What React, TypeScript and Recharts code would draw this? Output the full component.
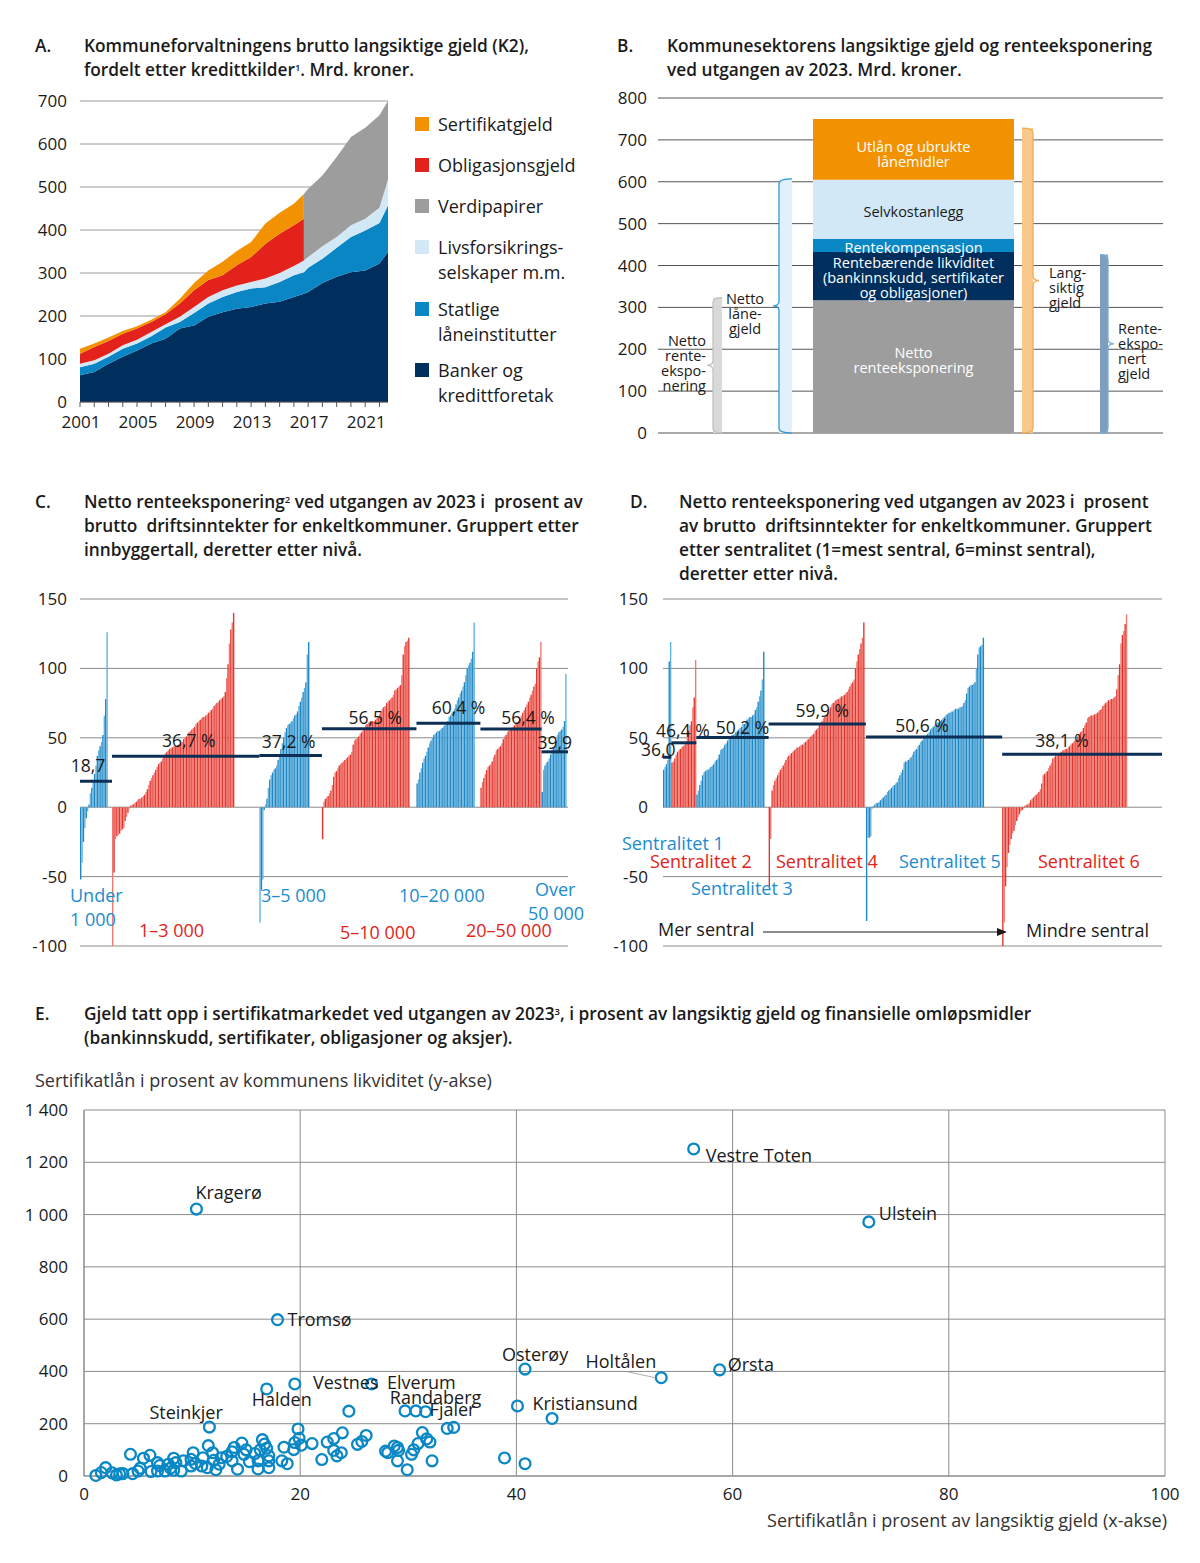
import React from 'react';
import {
  AreaChart, Area, BarChart, Bar, ScatterChart, Scatter, XAxis, YAxis,
  CartesianGrid, Cell, ReferenceLine,
} from 'recharts';

const FONT = '"Open Sans", "Noto Sans", "DejaVu Sans", sans-serif';
const TXT = '#1a1a1a';
const BLUE_T = '#1b8ccf';
const RED_T = '#e2231a';
const gap = (n: number) => Array(n).fill(null);

// ---------------- Panel A data ----------------
const aYears = [2001, 2002, 2003, 2004, 2005, 2006, 2007, 2008, 2009, 2010, 2011, 2012, 2013, 2014, 2015, 2016, 2016.7, 2016.7, 2017, 2018, 2019, 2020, 2021, 2022, 2022.6];
const aBanker = [62, 70, 89, 105, 120, 136, 147, 171, 178, 198, 209, 217, 221, 229, 233, 244, 252, 252, 256, 277, 291, 302, 306, 322, 349];
const aStatlige = [19, 19, 16, 19, 16, 17, 26, 15, 29, 31, 35, 39, 43, 38, 46, 51, 50, 50, 56, 56, 68, 82, 93, 94, 108];
const aLivs = [8, 8, 7, 8, 9, 10, 8, 12, 14, 15, 16, 15, 15, 20, 21, 21, 27, 27, 25, 29, 25, 27, 27, 36, 60];
const aVerdi = [0, 0, 0, 0, 0, 0, 0, 0, 0, 0, 0, 0, 0, 0, 0, 0, 0, 155, 159, 165, 186, 205, 212, 215, 183];
const aOblig = [23, 31, 30, 27, 26, 23, 23, 31, 39, 40, 35, 47, 58, 81, 91, 95, 97, 0, 0, 0, 0, 0, 0, 0, 0];
const aSert = [12, 8, 8, 6, 5, 5, 5, 11, 17, 22, 31, 33, 35, 47, 49, 50, 58, 0, 0, 0, 0, 0, 0, 0, 0];
const aTickYears = [2001, 2002, 2003, 2004, 2005, 2006, 2007, 2008, 2009, 2010, 2011, 2012, 2013, 2014, 2015, 2016, 2017, 2018, 2019, 2020, 2021, 2022];
const aLabelYears = [2001, 2005, 2009, 2013, 2017, 2021];
const aLegend = [
  { key: 'sert', lines: ['Sertifikatgjeld'], color: '#f39200' },
  { key: 'oblig', lines: ['Obligasjonsgjeld'], color: '#e3231b' },
  { key: 'verdi', lines: ['Verdipapirer'], color: '#9d9d9d' },
  { key: 'livs', lines: ['Livsforsikrings-', 'selskaper m.m.'], color: '#d2e8f7' },
  { key: 'statlige', lines: ['Statlige', 'låneinstitutter'], color: '#0a86c4' },
  { key: 'banker', lines: ['Banker og', 'kredittforetak'], color: '#002f5e' },
];

// ---------------- Panel B data ----------------
const bCategory = '2023';
const bNettoRente = 323;
const bNettoLane = 607;
const bLangsiktig = 728;
const bRenteeksp = 426;
const bStackKeys = ['s0', 's1', 's2', 's3', 's4'];
const bStackValues = [317, 115, 31, 142, 145];
const bStackLabels = [
  ['Netto', 'renteeksponering'],
  ['Rentebærende likviditet', '(bankinnskudd, sertifikater', 'og obligasjoner)'],
  ['Rentekompensasjon'],
  ['Selvkostanlegg'],
  ['Utlån og ubrukte', 'lånemidler'],
];

// ---------------- Panel C data ----------------
const cUnder1000 = [-52, -40, -25, -15, -8, -3, 2, 10, 14, 18, 24, 30, 37, 41, 44, 47, 52, 66, 78, 126, ...gap(3)];
const c1to3 = [-100, -47, -23, -21, -20, -19, -17, -16, -15, -10,
  -7, -4, -1, 1, 2, 2, 3, 4, 5, 6,
  6, 7, 8, 9, 11, 13, 16, 19, 21, 23,
  25, 27, 29, 31, 32, 33, 35, 37, 39, 40,
  41, 42, 43, 43, 44, 44, 44, 45, 45, 46,
  47, 49, 50, 51, 53, 54, 55, 56, 57, 58,
  60, 61, 62, 63, 64, 65, 65, 66, 67, 68,
  69, 70, 71, 73, 74, 75, 76, 77, 78, 79,
  80, 83, 93, 103, 118, 128, 133, 140, ...gap(18)];
const c3to5 = [-83, -60, -52, -2, 2, 6, 14, 20, 23, 25, 27, 28, 30, 34, 37, 42, 46, 50, 54, 57,
  59, 60, 61, 62, 64, 66, 67, 69, 73, 76, 79, 83, 86, 90, 110, 119, ...gap(9)];
const c5to10 = [-23, 4, 6, 7, 8, 10, 12, 16, 22, 25, 26, 28, 30, 31, 32, 33, 34, 35, 36, 37,
  38, 40, 45, 48, 49, 50, 51, 53, 54, 55, 57, 59, 60, 61, 61, 62, 62, 62, 63, 64,
  65, 67, 69, 71, 72, 73, 75, 76, 77, 78, 79, 81, 84, 85, 86, 87, 88, 95, 110, 116,
  119, 120, 122, ...gap(5)];
const c10to20 = [17, 20, 25, 28, 32, 35, 37, 40, 43, 46, 48, 50, 52, 53, 54, 55, 55, 56, 57, 58,
  59, 60, 62, 65, 66, 68, 69, 71, 74, 77, 79, 82, 84, 87, 90, 95, 100, 102, 104, 107,
  112, 133, ...gap(4)];
const c20to50 = [14, 18, 21, 24, 27, 29, 30, 31, 33, 36, 38, 41, 42, 43, 44, 46, 49, 51, 52, 54,
  55, 56, 57, 58, 59, 60, 61, 62, 64, 66, 68, 70, 72, 74, 76, 79, 81, 84, 87, 89,
  100, 105, 108, 119];
const cOver50 = [11, 27, 30, 32, 33, 35, 38, 41, 43, 44, 48, 52, 54, 55, 56, 58, 62, 96, ...gap(1)];
const cAverages = [18.7, 36.7, 37.2, 56.5, 60.4, 56.4, 39.9];
const cPercentSign = [false, true, true, true, true, true, false];
const cGroupColor = ['blue', 'red', 'blue', 'red', 'blue', 'red', 'blue'];

// ---------------- Panel D data ----------------
const dS1 = [27, 29, 31, 34, 105, 119];
const dS2 = [32, 33, 35, 38, 40, 41, 42, 43, 44, 45, 47, 50, 55, 59, 62, 72, 79, 106];
const dS3 = [9, 12, 16, 19, 23, 25, 26, 27, 27, 28, 29, 30, 31, 33, 34, 35, 38, 41, 42, 43,
  45, 46, 48, 49, 51, 52, 52, 53, 54, 55, 56, 57, 58, 60, 60, 61, 63, 64, 65, 65,
  66, 67, 70, 72, 76, 80, 84, 92, 112, ...gap(3)];
const dS4 = [-57, -23, 12, 16, 19, 21, 23, 25, 27, 28, 30, 32, 34, 36, 37, 38, 39, 40, 41, 42,
  43, 43, 44, 45, 45, 46, 47, 48, 49, 50, 51, 52, 53, 55, 56, 57, 59, 60, 62, 64,
  65, 66, 68, 69, 72, 74, 75, 76, 77, 78, 78, 79, 80, 80, 81, 82, 83, 85, 87, 89,
  90, 92, 100, 105, 110, 114, 118, 122, 133, ...gap(1)];
const dS5 = [-82, -22, -22, -21, -1, 1, 2, 3, 3, 4, 5, 6, 7, 8, 9, 11, 12, 13, 14, 15,
  16, 17, 18, 21, 23, 25, 27, 32, 33, 33, 34, 35, 36, 38, 40, 41, 42, 44, 45, 47,
  48, 50, 51, 52, 53, 54, 56, 57, 58, 59, 60, 61, 61, 62, 63, 64, 65, 66, 67, 68,
  68, 69, 69, 70, 71, 71, 71, 72, 72, 73, 75, 77, 82, 86, 87, 88, 88, 89, 90, 100,
  110, 115, 116, 117, 122, ...gap(13)];
const dS6 = [-100, -83, -57, -43, -33, -27, -23, -19, -17, -13, -10, -7, -5, -3, -2, -1, 1, 2, 2, 3,
  5, 6, 7, 8, 9, 10, 11, 13, 17, 23, 24, 25, 26, 28, 30, 32, 35, 36, 37, 38,
  39, 39, 40, 41, 41, 42, 42, 43, 44, 45, 46, 47, 48, 49, 51, 53, 54, 55, 57, 59,
  61, 64, 65, 66, 66, 66, 67, 67, 68, 69, 70, 71, 73, 74, 75, 76, 77, 77, 78, 78,
  79, 80, 85, 95, 103, 118, 124, 127, 132, 139, ...gap(25)];
const dAverages = [36.0, 46.4, 50.2, 59.9, 50.6, 38.1];
const dPercentSign = [false, true, true, true, true, true];
const dGroupColor = ['blue', 'red', 'blue', 'red', 'blue', 'red'];

// ---------------- Panel E data ----------------
const eNames = ['Vestre Toten', 'Ulstein', 'Kragerø', 'Tromsø', 'Osterøy', 'Ørsta', 'Holtålen', 'Vestnes', 'Elverum', 'Randaberg', 'Fjaler', 'Halden', 'Kristiansund', 'Steinkjer'];
const eNamedX = [56.4, 72.6, 10.4, 17.9, 40.8, 58.8, 53.4, 26.6, 29.7, 30.7, 31.6, 16.9, 40.1, 11.6];
const eNamedY = [1251, 972, 1021, 598, 409, 406, 376, 352, 249, 249, 246, 333, 268, 187];
const eOtherPoints = [
  [19.5, 352], [24.5, 248], [43.3, 220], [33.6, 182], [34.2, 186], [19.8, 180], [31.3, 166], [23.9, 165],
  [26.1, 155], [23.1, 143], [31.7, 142], [16.5, 139], [19.9, 144], [14.6, 126], [30.9, 124], [21.1, 124],
  [19.5, 128], [25.3, 121], [25.7, 132], [11.5, 116], [16.7, 122], [16.9, 106], [28.7, 115], [29.0, 109],
  [29.1, 98], [13.9, 109], [13.7, 93], [19.4, 101], [20.1, 118], [23.1, 98], [23.8, 89], [23.4, 77],
  [28.1, 89], [30.3, 83], [10.1, 89], [6.1, 79], [4.3, 83], [5.5, 68], [11.9, 89], [14.8, 83],
  [15.8, 86], [17.1, 77], [32.2, 58], [22.0, 63], [29.0, 58], [29.9, 24], [38.9, 69], [40.8, 47],
  [18.3, 58], [18.8, 47], [17.1, 58], [17.1, 32], [16.1, 58], [16.1, 27], [14.2, 26], [13.7, 58],
  [12.7, 70], [12.0, 60], [12.2, 24], [11.4, 32], [10.9, 38], [9.9, 38], [9.9, 64], [9.2, 58],
  [9.0, 19], [8.3, 68], [8.5, 51], [8.3, 22], [7.8, 45], [7.5, 19], [6.8, 51], [6.8, 19],
  [6.2, 17], [5.0, 19], [4.5, 9], [3.6, 9], [3.0, 4], [2.0, 32], [1.6, 13], [1.1, 2],
  [2.6, 12], [3.3, 8], [5.2, 30], [7.0, 40], [8.0, 30], [10.3, 48], [11.0, 70], [12.5, 45],
  [13.2, 75], [15.0, 100], [15.3, 55], [16.3, 100], [18.5, 110], [22.5, 130], [27.9, 95], [30.5, 100], [32.0, 130],
];
const eXTicks = [0, 20, 40, 60, 80, 100];
const eYTicks = [0, 200, 400, 600, 800, 1000, 1200, 1400];

// ---------------- styles (not data) ----------------
const SHADES: Record<string, string[]> = { blue: ['#1f87c4', '#62b1de'], red: ['#e5342c', '#f07a72'] };
const cLabelOffset = [[-8, -15], [3, -15], [-2, -14], [6, -11], [10, -15], [17, -11], [0, -9]];
const dLabelOffset = [[-9, -7], [-1, -12], [10, -10], [5, -13], [-12, -11], [-20, -13]];
const eLabelStyle: Record<string, { dx: number; dy: number; anchor: string; leader?: boolean }> = {
  'Kragerø': { dx: -1, dy: -16, anchor: 'start' },
  'Vestre Toten': { dx: 12, dy: 7, anchor: 'start' },
  'Ulstein': { dx: 10, dy: -8, anchor: 'start' },
  'Tromsø': { dx: 10, dy: 0, anchor: 'start' },
  'Osterøy': { dx: 10, dy: -14, anchor: 'middle' },
  'Holtålen': { dx: -5, dy: -16, anchor: 'end', leader: true },
  'Ørsta': { dx: 8, dy: -5, anchor: 'start' },
  'Vestnes': { dx: 7, dy: -1, anchor: 'end' },
  'Elverum': { dx: -18, dy: -28, anchor: 'start' },
  'Randaberg': { dx: -26, dy: -13, anchor: 'start' },
  'Fjaler': { dx: 4, dy: -2, anchor: 'start' },
  'Halden': { dx: -15, dy: 11, anchor: 'start' },
  'Kristiansund': { dx: 15, dy: -2, anchor: 'start' },
  'Steinkjer': { dx: -60, dy: -14, anchor: 'start' },
};

// ---------------- helpers ----------------
function Txt({ x, y, children, size = 18, color = TXT, weight = 400, anchor = 'start', ls = 0 }: any) {
  const tx = anchor === 'middle' ? 'translateX(-50%)' : anchor === 'end' ? 'translateX(-100%)' : undefined;
  const lh = Math.round(size * 1.2);
  return (
    <div style={{ position: 'absolute', left: x, top: y - lh / 2, fontSize: size, lineHeight: `${lh}px`, color, fontWeight: weight, whiteSpace: 'pre', transform: tx, letterSpacing: ls }}>
      {children}
    </div>
  );
}
const TITLE = { size: 17.3, weight: 600, ls: 0 };
const Title = ({ x, y, children }: any) => <Txt x={x} y={y} size={TITLE.size} weight={TITLE.weight} ls={TITLE.ls}>{children}</Txt>;
const Sup = ({ children }: any) => <sup style={{ fontSize: '55%', verticalAlign: 'top', position: 'relative', top: -2 }}>{children}</sup>;

function buildRows(groups: (number | null)[][]) {
  const rows: any[] = [];
  const ranges: number[][] = [];
  groups.forEach((vals, gi) => {
    const s = rows.length;
    vals.forEach((v) => rows.push({ i: rows.length, v, g: gi }));
    ranges.push([s, rows.length - 1]);
  });
  return { rows, ranges };
}
const fmtAvg = (v: number, pct: boolean) => v.toFixed(1).replace('.', ',') + (pct ? ' %' : '');

// ---------------- Panel A ----------------
const aRows = aYears.map((year, k) => ({
  year, banker: aBanker[k], statlige: aStatlige[k], livs: aLivs[k], verdi: aVerdi[k], oblig: aOblig[k], sert: aSert[k],
}));
const ATick = (props: any) => {
  const { x, y, payload } = props;
  if (!aLabelYears.includes(payload.value)) return <g />;
  return <text x={x + 1} y={y} dy="0.71em" textAnchor="middle" fontSize={17} fill={TXT}>{payload.value}</text>;
};
function PanelA() {
  return (
    <AreaChart width={400} height={350} data={aRows} margin={{ top: 11, right: 12, bottom: 8, left: 0 }}>
      <CartesianGrid vertical={false} stroke="#9a9a9a" />
      <XAxis dataKey="year" type="number" domain={[2001, 2022.6]} ticks={aTickYears} interval={0} height={30}
        tick={<ATick />} tickSize={5} tickMargin={9} stroke="#555" axisLine={{ stroke: '#555' }} tickLine={{ stroke: '#555' }} />
      <YAxis domain={[0, 700]} ticks={[0, 100, 200, 300, 400, 500, 600, 700]} interval={0} width={80}
        axisLine={false} tickLine={false} tickSize={0} tickMargin={13} tick={{ fontSize: 17, fill: TXT }} />
      <Area type="linear" dataKey="banker" stackId="a" stroke="none" fill="#002f5e" fillOpacity={1} isAnimationActive={false} />
      <Area type="linear" dataKey="statlige" stackId="a" stroke="none" fill="#0a86c4" fillOpacity={1} isAnimationActive={false} />
      <Area type="linear" dataKey="livs" stackId="a" stroke="none" fill="#d2e8f7" fillOpacity={1} isAnimationActive={false} />
      <Area type="linear" dataKey="verdi" stackId="a" stroke="none" fill="#9d9d9d" fillOpacity={1} isAnimationActive={false} />
      <Area type="linear" dataKey="oblig" stackId="a" stroke="none" fill="#e3231b" fillOpacity={1} isAnimationActive={false} />
      <Area type="linear" dataKey="sert" stackId="a" stroke="none" fill="#f39200" fillOpacity={1} isAnimationActive={false} />
    </AreaChart>
  );
}
function LegendA() {
  const ys = [124, 165, 206, 247, 309, 370];
  return (
    <>
      {aLegend.map((it, k) => (
        <React.Fragment key={it.key}>
          <div style={{ position: 'absolute', left: 415, top: ys[k] - 7, width: 14, height: 14, background: it.color }} />
          {it.lines.map((l, j) => <Txt key={j} x={438} y={ys[k] + j * 24.5} size={18}>{l}</Txt>)}
        </React.Fragment>
      ))}
    </>
  );
}

// ---------------- Panel B ----------------
const bRow: any = { name: bCategory, nettoRente: bNettoRente, nettoLane: bNettoLane, langsiktig: bLangsiktig, renteeksp: bRenteeksp };
bStackKeys.forEach((k, i) => { bRow[k] = bStackValues[i]; });
const bThin: Record<string, any> = {
  nettoRente: { side: 'left', stroke: '#c2c2c2', anchor: 'end', tx: -7, dy: -2, lines: ['Netto', 'rente-', 'ekspo-', 'nering'] },
  nettoLane: { side: 'left', stroke: '#2e9bd6', anchor: 'middle', tx: -34, dy: 8, lines: ['Netto', 'låne-', 'gjeld'] },
  langsiktig: { side: 'right', stroke: '#f4aa55', anchor: 'start', tx: 16, dy: 7, lines: ['Lang-', 'siktig', 'gjeld'] },
  renteeksp: { side: 'right', stroke: '#72aee0', anchor: 'start', tx: 10, dy: 8, lines: ['Rente-', 'ekspo-', 'nert', 'gjeld'] },
};
const bSegStyle = [
  { fill: '#9d9d9d', color: '#fff', dy: -6 },
  { fill: '#002f5e', color: '#fff', dy: 2 },
  { fill: '#0a87c5', color: '#fff', dy: 2 },
  { fill: '#d3e8f7', color: TXT, dy: 3 },
  { fill: '#f39200', color: '#fff', dy: 5 },
];
function Bracket(props: any) {
  const { x, y, width: w, height: h, fill, cfg } = props;
  if (!h || h <= 0) return <g />;
  const m = y + h / 2;
  const r = 5, t = 6;
  const left = cfg.side === 'left';
  const ex = left ? x : x + w;
  const ox = left ? x + w : x;
  const s = left ? -1 : 1;
  const d = `M${ox},${y} Q${ex},${y} ${ex},${y + r} L${ex},${m - r} Q${ex},${m} ${ex + s * t},${m} Q${ex},${m} ${ex},${m + r} L${ex},${y + h - r} Q${ex},${y + h} ${ox},${y + h}`;
  const lh = 15;
  const tx = left ? x + cfg.tx : x + w + cfg.tx;
  const y0 = m + cfg.dy - ((cfg.lines.length - 1) * lh) / 2 + 5;
  return (
    <g>
      <rect x={x} y={y} width={w} height={h} fill={fill} />
      <path d={d} fill="none" stroke={cfg.stroke} strokeWidth={1.3} />
      <text textAnchor={cfg.anchor} fontSize={14.5} fill={TXT}>
        {cfg.lines.map((l: string, i: number) => <tspan key={i} x={tx} y={y0 + i * lh}>{l}</tspan>)}
      </text>
    </g>
  );
}
function SegLabel(props: any) {
  const vb = props.viewBox && props.viewBox.width != null ? props.viewBox : props;
  const { x, y, width, height } = vb;
  const lines: string[] = props.lines;
  const lh = 15;
  const cx = x + width / 2;
  const y0 = y + height / 2 + props.dy - ((lines.length - 1) * lh) / 2 + 5;
  return (
    <text textAnchor="middle" fontSize={14.5} fill={props.color}>
      {lines.map((l, i) => <tspan key={i} x={cx} y={y0 + i * lh}>{l}</tspan>)}
    </text>
  );
}
function PanelB() {
  return (
    <BarChart width={620} height={370} data={[bRow]} margin={{ top: 18, right: 17, bottom: 17, left: 0 }} barGap={0} barCategoryGap={0}>
      <CartesianGrid vertical={false} stroke="#555" />
      <XAxis dataKey="name" hide />
      <YAxis domain={[0, 800]} ticks={[0, 100, 200, 300, 400, 500, 600, 700, 800]} interval={0} width={98}
        axisLine={false} tickLine={false} tickSize={0} tickMargin={11} tick={{ fontSize: 17, fill: TXT }} />
      <Bar dataKey="nettoRente" stackId="k1" barSize={9} fill="#d9d9d9" isAnimationActive={false} shape={(p: any) => <Bracket {...p} cfg={bThin.nettoRente} />} />
      <Bar dataKey="spacer1" stackId="k2" barSize={57} isAnimationActive={false} />
      <Bar dataKey="nettoLane" stackId="k3" barSize={13} fill="#e2f0fb" isAnimationActive={false} shape={(p: any) => <Bracket {...p} cfg={bThin.nettoLane} />} />
      <Bar dataKey="spacer2" stackId="k4" barSize={21} isAnimationActive={false} />
      {bStackKeys.map((k, i) => (
        <Bar key={k} dataKey={k} stackId="k5" barSize={201} fill={bSegStyle[i].fill} isAnimationActive={false}
          label={(p: any) => <SegLabel {...p} lines={bStackLabels[i]} color={bSegStyle[i].color} dy={bSegStyle[i].dy} />} />
      ))}
      <Bar dataKey="spacer3" stackId="k6" barSize={8} isAnimationActive={false} />
      <Bar dataKey="langsiktig" stackId="k7" barSize={11} fill="#f9c98b" isAnimationActive={false} shape={(p: any) => <Bracket {...p} cfg={bThin.langsiktig} />} />
      <Bar dataKey="spacer4" stackId="k8" barSize={67} isAnimationActive={false} />
      <Bar dataKey="renteeksp" stackId="k9" barSize={8} fill="#7f9ebe" isAnimationActive={false} shape={(p: any) => <Bracket {...p} cfg={bThin.renteeksp} />} />
    </BarChart>
  );
}

// ---------------- Panels C & D ----------------
const cData = buildRows([cUnder1000, c1to3, c3to5, c5to10, c10to20, c20to50, cOver50]);
const dData = buildRows([dS1, dS2, dS3, dS4, dS5, dS6]);

function SortedBars({ data, averages, pct, colors, offsets, width, height, yWidth, marginRight, tickMargin }: any) {
  const plotW = width - yWidth - marginRight;
  const band = plotW / data.rows.length;
  return (
    <BarChart width={width} height={height} data={data.rows} margin={{ top: 14, right: marginRight, bottom: 14, left: 0 }} barGap={0} barCategoryGap={0}>
      <CartesianGrid vertical={false} stroke="#8a8a8a" />
      <XAxis dataKey="i" hide />
      <YAxis domain={[-100, 150]} ticks={[-100, -50, 0, 50, 100, 150]} interval={0} width={yWidth} allowDataOverflow
        axisLine={false} tickLine={false} tickSize={0} tickMargin={tickMargin} tick={{ fontSize: 17, fill: TXT }} />
      <Bar dataKey="v" barSize={band - 0.01} isAnimationActive={false}>
        {data.rows.map((r: any, k: number) => <Cell key={k} fill={SHADES[colors[r.g]][k % 2]} />)}
      </Bar>
      {data.ranges.map((rg: number[], gi: number) => (
        <ReferenceLine key={gi} segment={[{ x: rg[0], y: averages[gi] }, { x: rg[1], y: averages[gi] }]}
          stroke="#0d2f56" strokeWidth={3} ifOverflow="visible"
          shape={(p: any) => <line x1={p.x1 - band / 2} x2={p.x2 + band / 2} y1={p.y1} y2={p.y2} stroke="#0d2f56" strokeWidth={3} />}
          label={(p: any) => {
            const vb = p.viewBox || {};
            return (
              <text x={vb.x + vb.width / 2 + offsets[gi][0]} y={vb.y + offsets[gi][1] + 6} textAnchor="middle" fontSize={17.5} fill={TXT}>
                {fmtAvg(averages[gi], pct[gi])}
              </text>
            );
          }} />
      ))}
    </BarChart>
  );
}

// ---------------- Panel E ----------------
const eRows = [
  ...eOtherPoints.map(([x, y]) => ({ x, y, name: null as string | null })),
  ...eNames.map((name, k) => ({ x: eNamedX[k], y: eNamedY[k], name })),
];
const fmtThousands = (v: number) => (v >= 1000 ? `${Math.floor(v / 1000)} ${String(v % 1000).padStart(3, '0')}` : String(v));
function EDot(props: any) {
  const { cx, cy, payload } = props;
  const st = payload && payload.name ? eLabelStyle[payload.name] : null;
  return (
    <g>
      <circle cx={cx} cy={cy} r={5.4} fill="none" stroke="#0a87c5" strokeWidth={2.3} />
      {st && st.leader && <line x1={cx - 34} y1={cy - 6} x2={cx - 6} y2={cy} stroke="#999" strokeWidth={0.8} />}
      {st && (
        <text x={cx + st.dx} y={cy + st.dy + 6} textAnchor={st.anchor} fontSize={18} fill={TXT}>{payload.name}</text>
      )}
    </g>
  );
}
function PanelE() {
  return (
    <ScatterChart width={1200} height={420} margin={{ top: 15, right: 35, bottom: 9, left: 0 }}>
      <CartesianGrid stroke="#8c8c8c" />
      <XAxis type="number" dataKey="x" domain={[0, 100]} ticks={eXTicks} interval={0} height={30}
        axisLine={{ stroke: '#8c8c8c' }} tickLine={false} tickSize={0} tickMargin={12} tick={{ fontSize: 17, fill: TXT }} />
      <YAxis type="number" dataKey="y" domain={[0, 1400]} ticks={eYTicks} interval={0} width={84} tickFormatter={fmtThousands}
        axisLine={{ stroke: '#8c8c8c' }} tickLine={false} tickSize={0} tickMargin={16} tick={{ fontSize: 17, fill: TXT }} />
      <Scatter data={eRows} isAnimationActive={false} shape={(p: any) => <EDot {...p} />} />
    </ScatterChart>
  );
}

// ---------------- App ----------------
export default function App() {
  return (
    <div style={{ position: 'absolute', left: 0, top: 0, width: 1200, height: 1563, background: '#fff', fontFamily: FONT, color: TXT, overflow: 'hidden' }}>
      {/* Titles */}
      <Title x={35} y={45}>A.</Title>
      <Title x={84} y={45}>Kommuneforvaltningens brutto langsiktige gjeld (K2),</Title>
      <Title x={84} y={69}>fordelt etter kredittkilder<Sup>1</Sup>. Mrd. kroner.</Title>
      <Title x={617} y={45}>B.</Title>
      <Title x={667} y={45}>Kommunesektorens langsiktige gjeld og renteeksponering</Title>
      <Title x={667} y={69}>ved utgangen av 2023. Mrd. kroner.</Title>
      <Title x={35} y={501}>C.</Title>
      <Title x={84} y={501}>Netto renteeksponering<Sup>2</Sup> ved utgangen av 2023 i  prosent av</Title>
      <Title x={84} y={525}>brutto  driftsinntekter for enkeltkommuner. Gruppert etter</Title>
      <Title x={84} y={549}>innbyggertall, deretter etter nivå.</Title>
      <Title x={630} y={501}>D.</Title>
      <Title x={679} y={501}>Netto renteeksponering ved utgangen av 2023 i  prosent</Title>
      <Title x={679} y={525}>av brutto  driftsinntekter for enkeltkommuner. Gruppert</Title>
      <Title x={679} y={549}>etter sentralitet (1=mest sentral, 6=minst sentral),</Title>
      <Title x={679} y={573}>deretter etter nivå.</Title>
      <Title x={35} y={1013}>E.</Title>
      <Title x={84} y={1013}>Gjeld tatt opp i sertifikatmarkedet ved utgangen av 2023<Sup>3</Sup>, i prosent av langsiktig gjeld og finansielle omløpsmidler</Title>
      <Title x={84} y={1037}>(bankinnskudd, sertifikater, obligasjoner og aksjer).</Title>
      <Txt x={35} y={1080} color="#333">Sertifikatlån i prosent av kommunens likviditet (y-akse)</Txt>
      <Txt x={1167} y={1520} anchor="end" color="#333">Sertifikatlån i prosent av langsiktig gjeld (x-akse)</Txt>

      {/* Panel A */}
      <div style={{ position: 'absolute', left: 0, top: 90 }}><PanelA /></div>
      <LegendA />

      {/* Panel B */}
      <div style={{ position: 'absolute', left: 560, top: 80 }}><PanelB /></div>

      {/* Panel C */}
      <div style={{ position: 'absolute', left: 0, top: 585 }}>
        <SortedBars data={cData} averages={cAverages} pct={cPercentSign} colors={cGroupColor} offsets={cLabelOffset}
          width={580} height={375} yWidth={80} marginRight={12} tickMargin={13} />
      </div>
      <Txt x={70} y={895} color={BLUE_T}>Under</Txt>
      <Txt x={70} y={919} color={BLUE_T}>1 000</Txt>
      <Txt x={139} y={930} color={RED_T}>1–3 000</Txt>
      <Txt x={261} y={895} color={BLUE_T}>3–5 000</Txt>
      <Txt x={340} y={932} color={RED_T}>5–10 000</Txt>
      <Txt x={399} y={895} color={BLUE_T}>10–20 000</Txt>
      <Txt x={466} y={930} color={RED_T}>20–50 000</Txt>
      <Txt x={535} y={889} color={BLUE_T}>Over</Txt>
      <Txt x={528} y={913} color={BLUE_T}>50 000</Txt>

      {/* Panel D */}
      <div style={{ position: 'absolute', left: 580, top: 585 }}>
        <SortedBars data={dData} averages={dAverages} pct={dPercentSign} colors={dGroupColor} offsets={dLabelOffset}
          width={600} height={375} yWidth={83} marginRight={18} tickMargin={15} />
      </div>
      <Txt x={622} y={843} color={BLUE_T}>Sentralitet 1</Txt>
      <Txt x={650} y={861} color={RED_T}>Sentralitet 2</Txt>
      <Txt x={691} y={888} color={BLUE_T}>Sentralitet 3</Txt>
      <Txt x={776} y={861} color={RED_T}>Sentralitet 4</Txt>
      <Txt x={899} y={861} color={BLUE_T}>Sentralitet 5</Txt>
      <Txt x={1038} y={861} color={RED_T}>Sentralitet 6</Txt>
      <Txt x={658} y={929}>Mer sentral</Txt>
      <Txt x={1026} y={930}>Mindre sentral</Txt>
      <svg style={{ position: 'absolute', left: 0, top: 0, pointerEvents: 'none' }} width={1200} height={1563}>
        <line x1={763} y1={932} x2={999} y2={932} stroke={TXT} strokeWidth={1} />
        <path d="M1007,932 L997,928 L997,936 Z" fill={TXT} />
      </svg>

      {/* Panel E */}
      <div style={{ position: 'absolute', left: 0, top: 1095 }}><PanelE /></div>
    </div>
  );
}
